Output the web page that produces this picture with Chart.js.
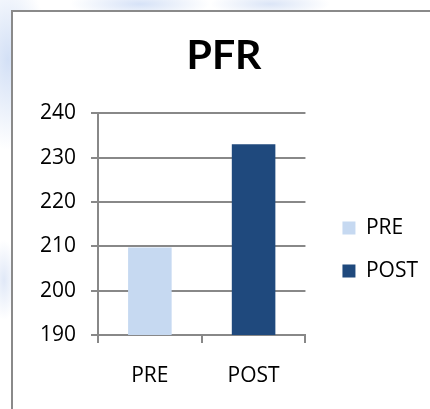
<!DOCTYPE html>
<html>
<head>
<meta charset="utf-8">
<script src="https://cdn.jsdelivr.net/npm/chart.js@4.4.1/dist/chart.umd.min.js"></script>
<style>
  html, body { margin: 0; padding: 0; overflow: hidden; }
  ::-webkit-scrollbar { display: none; }
  body { width: 430px; height: 409px; position: relative; background: #fff; }
  .wash {
    position: absolute; left: 0; top: 0; width: 430px; height: 409px;
    background:
      radial-gradient(ellipse 40px 90px at 8px 60px, #d3e0f6 0%, rgba(211,224,246,0) 100%),
      radial-gradient(ellipse 70px 14px at 140px 4px, #d6e2f7 0%, rgba(214,226,247,0) 100%),
      radial-gradient(ellipse 60px 12px at 270px 4px, #dbe5f7 0%, rgba(219,229,247,0) 100%),
      radial-gradient(ellipse 14px 40px at 4px 280px, #e0e8f7 0%, rgba(224,232,247,0) 100%);
  }
  .frame {
    position: absolute; left: 11px; top: 10px; width: 419px; height: 399px;
    border-left: 2px solid #8a8a8a; border-top: 2px solid #8a8a8a; background: #fff;
  }
  #pfrChart { position: absolute; left: 0; top: 0; }
</style>
</head>
<body>
<div class="wash"></div>
<div class="frame"></div>
<canvas id="pfrChart" width="430" height="409"></canvas>
<script>
const categories = ["PRE", "POST"];
const pfrValues = [209.7, 233];
const barColors = ["#c6d9f1", "#1f497d"];
const yTicks = [190, 200, 210, 220, 230, 240];

const textFont = { family: "'Open Sans', 'Liberation Sans', sans-serif", size: 21 };

// one dataset per category so the legend lists PRE and POST
const datasets = categories.map((name, i) => ({
  label: name,
  data: pfrValues.map((v, j) => (j === i ? v : null)),
  backgroundColor: barColors[i],
  borderWidth: 0,
  barPercentage: 0.42,
  categoryPercentage: 1,
  skipNull: true,
}));

new Chart(document.getElementById("pfrChart"), {
  type: "bar",
  data: { labels: categories, datasets },
  options: {
    responsive: false,
    animation: false,
    layout: { padding: { left: 20, right: 2, top: 0, bottom: 0 } },
    plugins: {
      title: {
        display: true,
        text: "PFR",
        color: "#000",
        font: { family: "'Liberation Sans Narrow', Lato, sans-serif", size: 41, weight: "bold" },
        padding: { top: 31, bottom: 33 },
      },
      legend: {
        position: "right",
        maxWidth: 140,
        // empty legend title only pushes the two entries down
        title: { display: true, text: " ", font: { size: 10 }, padding: { top: 78, bottom: 0 } },
        labels: { boxWidth: 13, boxHeight: 13, padding: 22, color: "#000", font: textFont },
      },
      tooltip: { enabled: false },
    },
    scales: {
      x: {
        offset: true,
        afterFit: (s) => { s.height = 74; },
        grid: { display: true, drawOnChartArea: false, drawTicks: true, tickLength: 8, color: "#888", lineWidth: 2, offset: true },
        border: { display: true, color: "#888", width: 2 },
        ticks: { color: "#000", font: textFont, padding: 20 },
      },
      y: {
        min: 190,
        max: 240,
        afterBuildTicks: (s) => { s.ticks = yTicks.map((v) => ({ value: v })); },
        afterFit: (s) => { s.width = 78; },
        grid: { color: "#888", lineWidth: 2, tickLength: 7 },
        border: { color: "#888", width: 2 },
        ticks: { color: "#000", font: textFont, padding: 15 },
      },
      // empty spacer between plot and legend
      gap: {
        type: "linear",
        position: "right",
        display: true,
        grid: { display: false },
        border: { display: false },
        ticks: { display: false },
        afterFit: (s) => { s.width = 15; },
      },
    },
  },
});
</script>
</body>
</html>
